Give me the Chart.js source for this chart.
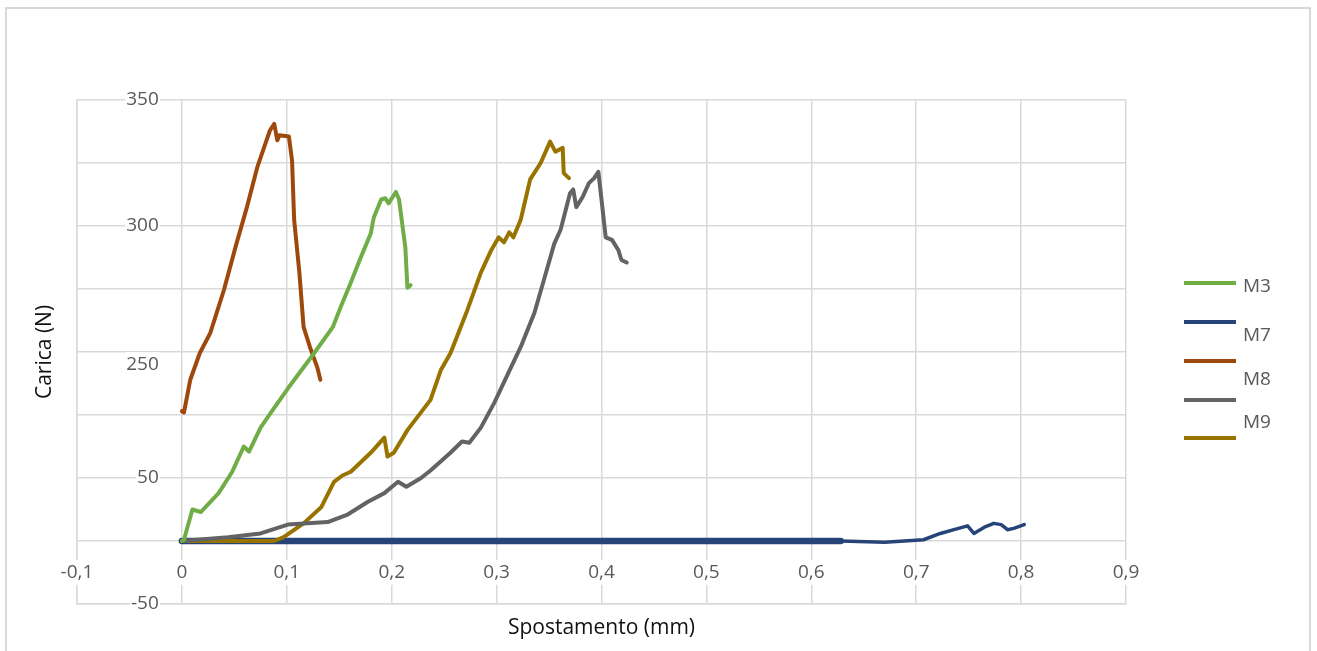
<!DOCTYPE html>
<html>
<head>
<meta charset="utf-8">
<script src="https://cdn.jsdelivr.net/npm/chart.js@4"></script>
<style>
  body { margin: 0; background: #fff; }
  #wrap { position: relative; width: 1317px; height: 651px; overflow: hidden; }
  #frame { position: absolute; left: 5px; top: 7px; width: 1306px; height: 700px; border: 2px solid #d9d9d9; box-sizing: border-box; }
  canvas { position: absolute; left: 0; top: 0; }
</style>
</head>
<body>
<div id="wrap">
  <div id="frame"></div>
  <canvas id="myChart" width="1317" height="651"></canvas>
</div>
<script>
/* data */
const m3X = [0, 0.002, 0.010, 0.018, 0.035, 0.048, 0.059, 0.064, 0.075, 0.085, 0.101, 0.126, 0.144, 0.152, 0.161, 0.169, 0.180, 0.183, 0.190, 0.194, 0.197, 0.204, 0.207, 0.210, 0.213, 0.215, 0.218];
const m3Y = [0, 1, 25, 23, 38, 55, 75, 71, 90, 102, 121, 149, 170, 187, 205, 222, 244, 257, 271, 272, 268, 277, 271, 252, 233, 201, 203];

const m7X = [0, 0.628, 0.670, 0.707, 0.723, 0.736, 0.749, 0.755, 0.765, 0.774, 0.781, 0.787, 0.793, 0.803];
const m7Y = [0, 0, -1, 1, 6, 9, 12, 6, 11, 14, 13, 9, 10, 13];

const m8X = [0, 0.002, 0.008, 0.017, 0.027, 0.040, 0.052, 0.062, 0.072, 0.079, 0.084, 0.088, 0.091, 0.093, 0.102, 0.105, 0.107, 0.112, 0.116, 0.122, 0.129, 0.132];
const m8Y = [103, 102, 128, 149, 165, 199, 236, 265, 297, 314, 326, 331, 318, 322, 321, 302, 255, 213, 170, 154, 138, 128];

const greyX = [0, 0.044, 0.075, 0.101, 0.120, 0.139, 0.158, 0.177, 0.193, 0.206, 0.214, 0.228, 0.237, 0.256, 0.267, 0.274, 0.285, 0.298, 0.311, 0.323, 0.336, 0.345, 0.355, 0.361, 0.370, 0.373, 0.376, 0.382, 0.388, 0.393, 0.397, 0.400, 0.404, 0.410, 0.416, 0.419, 0.424];
const greyY = [0, 3, 6, 13, 14, 15, 21, 31, 38, 47, 43, 50, 56, 70, 79, 78, 90, 110, 133, 154, 181, 207, 236, 247, 276, 279, 265, 273, 284, 288, 293, 271, 241, 239, 231, 223, 221];

const m9X = [0, 0.040, 0.088, 0.097, 0.116, 0.133, 0.145, 0.153, 0.161, 0.180, 0.193, 0.196, 0.202, 0.215, 0.237, 0.247, 0.256, 0.272, 0.285, 0.295, 0.302, 0.307, 0.312, 0.316, 0.323, 0.332, 0.342, 0.351, 0.356, 0.363, 0.364, 0.369];
const m9Y = [0, 0, 0, 3, 14, 27, 47, 52, 55, 70, 82, 67, 70, 88, 112, 136, 149, 183, 213, 231, 241, 237, 245, 241, 255, 287, 300, 317, 309, 312, 292, 288];

// axis labels
const xTickValues = [-0.1, 0, 0.1, 0.2, 0.3, 0.4, 0.5, 0.6, 0.7, 0.8, 0.9];
const yTickValues = [-50, 50, 140, 250, 350];
const yTickLabels = ['-50', '50', '250', '300', '350'];
const legendLabels = ['M3', 'M7', 'M8', 'M9'];

const seriesColors = ['#70ad47', '#264478', '#9e480e', '#636363', '#997300'];

const toPoints = (xs, ys) => xs.map((x, i) => ({ x: x, y: ys[i] }));
const fmt = v => String(Math.round(v * 10) / 10).replace('.', ',');
const FONT = '"Open Sans", sans-serif';

/* legend drawn at the right side of the canvas */
const sideLegend = {
    id: 'sideLegend',
    afterDraw(chart) {
        const c = chart.ctx;
        const lineY = [283, 322, 361, 400, 438];
        const textY = [287, 336, 380, 423];
        c.save();
        c.lineWidth = 4;
        seriesColors.forEach((col, i) => {
            c.strokeStyle = col;
            c.beginPath();
            c.moveTo(1184, lineY[i]);
            c.lineTo(1236, lineY[i]);
            c.stroke();
        });
        c.fillStyle = '#595959';
        c.font = '19px ' + FONT;
        c.textBaseline = 'middle';
        legendLabels.forEach((t, i) => c.fillText(t, 1243, textY[i]));
        c.restore();
    }
};

const gridColor = '#d9d9d9';

const myChart = new Chart(document.getElementById('myChart'), {
    type: 'scatter',
    data: {
        datasets: [{
            label: 'M3',
            data: toPoints(m3X, m3Y),
            borderColor: seriesColors[0],
            order: 1
        }, {
            label: 'M7',
            data: toPoints(m7X, m7Y),
            borderColor: seriesColors[1],
            order: 5,
            segment: {
                borderWidth: ctx => ctx.p1.parsed.x <= 0.628 ? 6.5 : 3.5
            }
        }, {
            label: 'M8',
            data: toPoints(m8X, m8Y),
            borderColor: seriesColors[2],
            order: 1
        }, {
            label: '',
            data: toPoints(greyX, greyY),
            borderColor: seriesColors[3],
            order: 1
        }, {
            label: 'M9',
            data: toPoints(m9X, m9Y),
            borderColor: seriesColors[4],
            order: 1
        }]
    },
    options: {
        responsive: false,
        animation: false,
        showLine: true,
        elements: {
            point: { radius: 0, hoverRadius: 0 },
            line: { borderWidth: 4, tension: 0, borderCapStyle: 'round', borderJoinStyle: 'round' }
        },
        layout: { padding: { top: 100, right: 191, left: 0, bottom: 0 } },
        plugins: {
            legend: { display: false },
            tooltip: { enabled: false }
        },
        scales: {
            x: {
                type: 'linear',
                position: 'bottom',
                min: -0.1,
                max: 0.9,
                afterBuildTicks: axis => { axis.ticks = xTickValues.map(v => ({ value: v })); },
                afterFit: axis => { axis.height = 47; },
                ticks: { display: false },
                grid: { color: gridColor, lineWidth: 1.5, drawTicks: false },
                border: { color: gridColor, width: 1.5 },
                title: {
                    display: true,
                    text: 'Spostamento (mm)',
                    color: '#111',
                    font: { family: FONT, size: 21 },
                    padding: { top: 10, bottom: 10 }
                }
            },
            y: {
                type: 'linear',
                position: 'left',
                min: -50,
                max: 350,
                ticks: { display: false, stepSize: 50 },
                afterFit: axis => { axis.width = 77; },
                grid: { color: gridColor, lineWidth: 1.5, drawTicks: false },
                border: { color: gridColor, width: 1.5 },
                title: {
                    display: true,
                    text: 'Carica (N)',
                    color: '#111',
                    font: { family: FONT, size: 21 },
                    padding: { top: 32, bottom: 32 }
                }
            },
            // tick labels sitting next to the zero lines
            xl: {
                type: 'linear',
                position: { y: 0 },
                min: -0.1,
                max: 0.9,
                afterBuildTicks: axis => { axis.ticks = xTickValues.map(v => ({ value: v })); },
                ticks: {
                    autoSkip: false,
                    maxRotation: 0,
                    padding: 20,
                    color: '#595959',
                    font: { family: FONT, size: 19 },
                    showLabelBackdrop: true,
                    backdropColor: '#fff',
                    backdropPadding: 1,
                    callback: v => fmt(v)
                },
                grid: { display: false, drawTicks: false },
                border: { display: false }
            },
            yl: {
                type: 'linear',
                position: { x: -0.022 },
                min: -50,
                max: 350,
                afterBuildTicks: axis => { axis.ticks = yTickValues.map(v => ({ value: v })); },
                ticks: {
                    autoSkip: false,
                    padding: 0,
                    color: '#595959',
                    font: { family: FONT, size: 19 },
                    showLabelBackdrop: true,
                    backdropColor: '#fff',
                    backdropPadding: 1,
                    callback: (v, i) => yTickLabels[i]
                },
                grid: { display: false, drawTicks: false },
                border: { display: false }
            }
        }
    },
    plugins: [sideLegend]
});
</script>
</body>
</html>
